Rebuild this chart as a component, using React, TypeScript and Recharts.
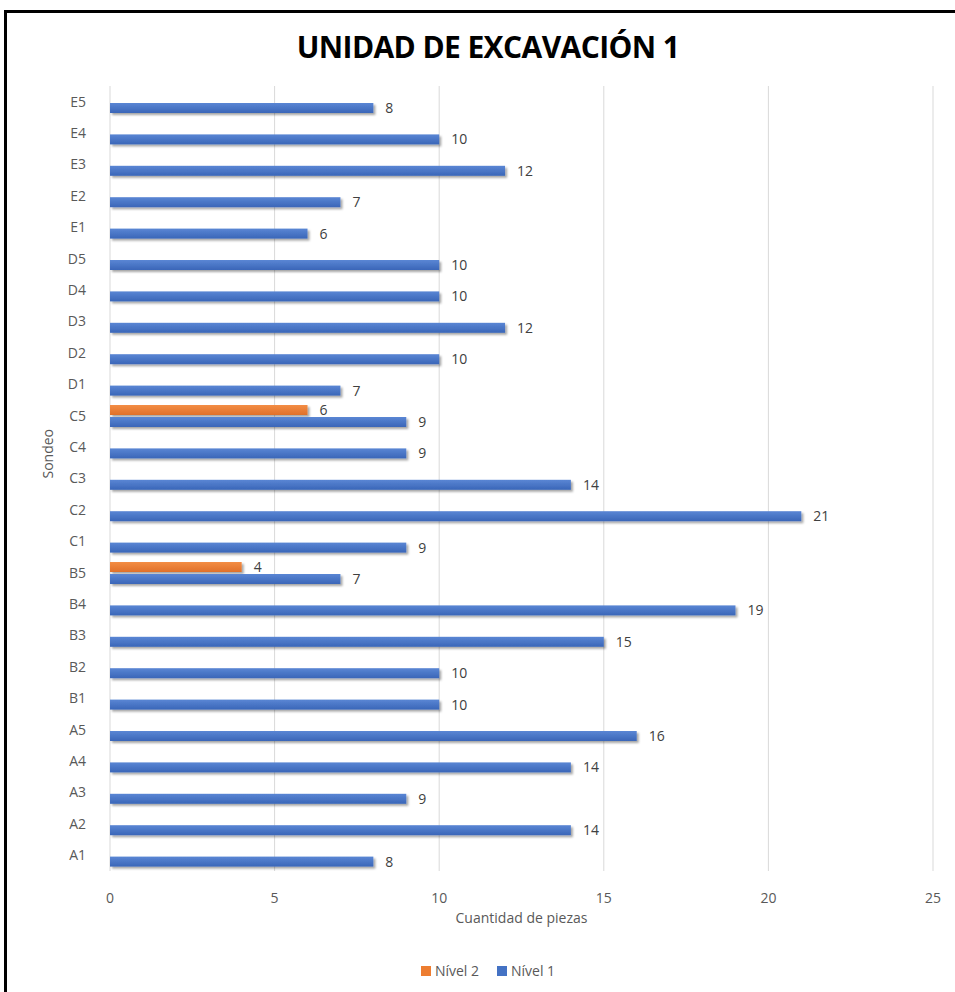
import { Bar, BarChart, CartesianGrid, LabelList, XAxis, YAxis } from "recharts";

const sondeos = ["A1", "A2", "A3", "A4", "A5", "B1", "B2", "B3", "B4", "B5", "C1", "C2", "C3", "C4", "C5", "D1", "D2", "D3", "D4", "D5", "E1", "E2", "E3", "E4", "E5"];
const nivel1 = [8, 14, 9, 14, 16, 10, 10, 15, 19, 7, 9, 21, 14, 9, 9, 7, 10, 12, 10, 10, 6, 7, 12, 10, 8];
const nivel2: (number | null)[] = [null, null, null, null, null, null, null, null, null, 4, null, null, null, null, 6, null, null, null, null, null, null, null, null, null, null];
const xTicks = [0, 5, 10, 15, 20, 25];

const data = sondeos.map((s, i) => ({ sondeo: s, n1: nivel1[i], n2: nivel2[i] }));

const BLUE = "#4472C4";
const ORANGE = "#ED7D31";
const TXT = "#595959";

const shadowBar = (id: string) => (props: any) => {
  const { x, y, width, height } = props;
  if (!width || width <= 0) return <g />;
  return <rect x={x} y={y} width={width} height={height} fill={`url(#${id})`} filter="url(#barShadow)" />;
};

export default function App() {
  return (
    <div style={{ position: "fixed", left: 0, top: 0, width: 955, height: 992, background: "#fff", overflow: "hidden", fontFamily: "'Open Sans', sans-serif" }}>
      <svg width={0} height={0} style={{ position: "absolute" }}>
        <defs>
          <filter id="barShadow" x="-5%" y="-50%" width="115%" height="220%">
            <feDropShadow dx="2" dy="2" stdDeviation="1.2" floodColor="#000" floodOpacity="0.35" />
          </filter>
          <linearGradient id="gBlue" x1="0" y1="0" x2="0" y2="1">
            <stop offset="0" stopColor="#5a86d4" />
            <stop offset="1" stopColor="#3a66b8" />
          </linearGradient>
          <linearGradient id="gOrange" x1="0" y1="0" x2="0" y2="1">
            <stop offset="0" stopColor="#f38d45" />
            <stop offset="1" stopColor="#e0702a" />
          </linearGradient>
        </defs>
      </svg>
      <div style={{ position: "absolute", left: 4, top: 10, width: 970, height: 1000, border: "3px solid #000", boxSizing: "border-box" }} />
      <div style={{ position: "absolute", left: 0, top: 26, width: 976, textAlign: "center", fontSize: 30, fontWeight: 700, color: "#000", letterSpacing: -0.6 }}>
        UNIDAD DE EXCAVACIÓN 1
      </div>
      <div style={{ position: "absolute", left: 0, top: 0 }}>
        <BarChart
          width={955}
          height={992}
          data={data}
          layout="vertical"
          margin={{ top: 86, right: 22, bottom: 0, left: 42 }}
          barSize={10}
          barGap={2}
        >
          <CartesianGrid horizontal={false} stroke="#d9d9d9" />
          <XAxis
            type="number"
            domain={[0, 25]}
            ticks={xTicks}
            axisLine={false}
            tickLine={false}
            tick={{ fill: TXT, fontSize: 14 }}
            tickMargin={16}
            height={121}
            label={{ value: "Cuantidad de piezas", position: "insideTop", offset: 42, fill: TXT, fontSize: 14 }}
          />
          <YAxis
            type="category"
            dataKey="sondeo"
            reversed
            width={68}
            axisLine={false}
            tickLine={false}
            tick={{ fill: TXT, fontSize: 14 }}
            tickMargin={18}
            interval={0}
            label={{ value: "Sondeo", angle: -90, position: "insideLeft", offset: 6, fill: TXT, fontSize: 14 }}
          />
          <Bar dataKey="n2" name="Nível 2" fill={ORANGE} shape={shadowBar("gOrange")} isAnimationActive={false}>
            <LabelList dataKey="n2" position="right" offset={12} fill="#404040" fontSize={14} formatter={(v: any) => (v == null ? "" : v)} />
          </Bar>
          <Bar dataKey="n1" name="Nível 1" fill={BLUE} shape={shadowBar("gBlue")} isAnimationActive={false}>
            <LabelList dataKey="n1" position="right" offset={12} fill="#404040" fontSize={14} />
          </Bar>
        </BarChart>
      </div>
      <div style={{ position: "absolute", top: 961, left: 0, width: 976, display: "flex", justifyContent: "center", gap: 18, fontSize: 14, color: TXT }}>
        <span style={{ display: "flex", alignItems: "center", gap: 4 }}>
          <span style={{ width: 10, height: 10, background: ORANGE, display: "inline-block" }} />Nível 2
        </span>
        <span style={{ display: "flex", alignItems: "center", gap: 4 }}>
          <span style={{ width: 10, height: 10, background: BLUE, display: "inline-block" }} />Nível 1
        </span>
      </div>
    </div>
  );
}
